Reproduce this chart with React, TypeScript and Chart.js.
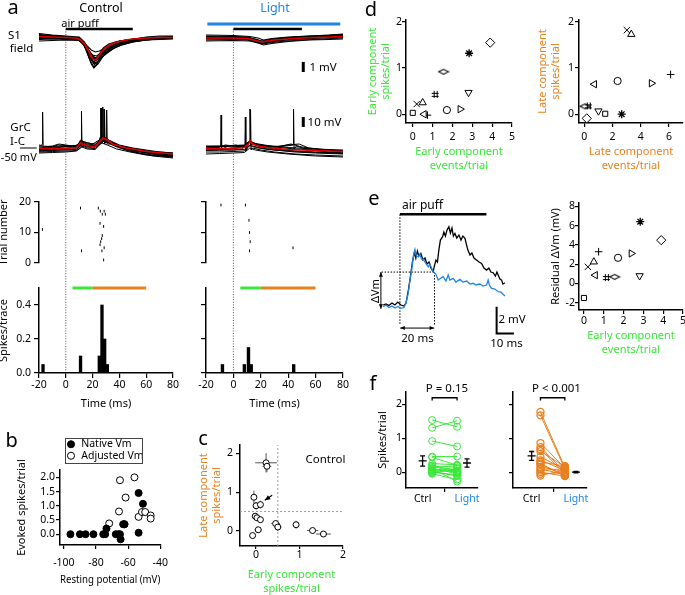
import React, { useEffect, useRef } from 'react';
import { Chart, registerables } from 'chart.js';

Chart.register(...registerables);

const FONT = "'Noto Sans', 'Open Sans', 'DejaVu Sans', sans-serif";
const GREEN = '#3ae63a';
const ORANGE = '#e8801f';
const BLUE = '#1f86e3';
const RED = '#e00000';

// ---------------- panel a ----------------
const timeTicks = [-20, 0, 20, 40, 60, 80];
const airPuffWin = [0, 50];
const earlyWin = [5, 20];
const lateWin = [20, 60];

const s1CtrlTraces = [
  [[-20,0.3],[-12,0.2],[-5,0.15],[0,0.1],[6,0.0],[10,-0.1],[13,-0.5],[16,-1.5],[19,-2.6],[21,-3.0],[23,-2.7],[25,-2.1],[28,-1.4],[32,-0.9],[36,-0.6],[42,-0.4],[50,-0.2],[60,-0.05],[70,0.05],[80,0.1]],
  [[-20,-0.1],[-10,0.0],[0,-0.05],[8,-0.1],[12,-0.3],[16,-0.8],[19,-1.2],[22,-1.4],[25,-1.3],[28,-1.1],[32,-0.9],[36,-0.7],[42,-0.45],[50,-0.25],[60,-0.1],[70,0.0],[80,0.0]],
  [[-20,0.2],[-8,0.1],[0,0.0],[9,-0.1],[13,-0.6],[17,-1.6],[20,-2.3],[22,-2.5],[25,-2.2],[28,-1.8],[32,-1.4],[36,-1.0],[42,-0.7],[50,-0.4],[60,-0.2],[70,-0.1],[80,0.0]],
  [[-20,0.05],[-10,-0.05],[0,0.1],[8,0.05],[12,-0.3],[15,-1.0],[18,-1.8],[21,-2.4],[24,-2.0],[27,-1.4],[30,-0.9],[34,-0.6],[40,-0.3],[50,-0.1],[60,0.05],[70,0.1],[80,0.1]],
  [[-20,0.35],[-10,0.25],[0,0.15],[10,0.0],[14,-0.7],[17,-1.5],[20,-2.0],[22,-2.1],[25,-1.6],[28,-1.0],[32,-0.6],[38,-0.35],[45,-0.2],[55,-0.05],[65,0.05],[80,0.15]],
  [[-20,-0.15],[-10,-0.1],[0,-0.15],[9,-0.2],[13,-0.5],[16,-1.2],[19,-2.0],[22,-2.8],[24,-2.6],[27,-2.0],[30,-1.5],[34,-1.0],[40,-0.6],[48,-0.35],[58,-0.2],[70,-0.1],[80,-0.05]],
  [[-20,0.45],[-10,0.3],[0,0.2],[10,0.1],[14,-0.4],[18,-1.4],[21,-2.0],[24,-1.9],[27,-1.5],[31,-1.1],[36,-0.7],[42,-0.4],[50,-0.15],[60,0.1],[70,0.2],[80,0.2]],
  [[-20,-0.3],[-10,-0.25],[0,-0.2],[10,-0.25],[14,-0.8],[18,-2.2],[21,-2.9],[23,-2.6],[26,-1.9],[30,-1.3],[35,-0.9],[42,-0.55],[50,-0.35],[60,-0.2],[70,-0.15],[80,-0.1]],
  [[-20,0.1],[-10,0.05],[0,0.0],[9,-0.05],[13,-0.45],[16,-1.1],[19,-1.8],[22,-2.3],[25,-2.0],[28,-1.5],[32,-1.1],[37,-0.75],[43,-0.5],[50,-0.3],[60,-0.1],[70,0.0],[80,0.0]],
  [[-20,0.25],[-10,0.2],[0,0.1],[10,0.05],[14,-0.5],[17,-1.2],[20,-1.7],[23,-1.8],[26,-1.5],[29,-1.2],[33,-0.9],[38,-0.6],[45,-0.35],[55,-0.15],[65,0.0],[80,0.1]],
  [[-20,-0.05],[-10,0.0],[0,-0.05],[9,-0.1],[12,-0.4],[15,-1.1],[18,-2.0],[21,-2.6],[23,-2.5],[26,-2.0],[30,-1.5],[35,-1.1],[41,-0.7],[50,-0.4],[60,-0.2],[70,-0.05],[80,0.05]],
  [[-20,0.0],[-10,0.1],[0,0.05],[10,-0.05],[13,-0.4],[16,-1.0],[19,-1.6],[22,-2.0],[25,-1.9],[28,-1.6],[32,-1.3],[36,-1.0],[42,-0.65],[50,-0.35],[60,-0.15],[70,0.0],[80,0.05]],
];
const s1CtrlMean = [[-20,0.15],[-10,0.1],[0,0.05],[8,0],[11,-0.2],[14,-0.6],[17,-1.3],[19,-1.9],[21,-2.2],[23,-2.1],[25,-1.7],[28,-1.2],[31,-0.85],[35,-0.55],[40,-0.35],[45,-0.2],[50,-0.1],[60,0.0],[70,0.05],[80,0.05]];

const s1LightTraces = [
  [[-20,0.2],[0,0.15],[10,0.1],[16,-0.1],[21,-0.3],[26,-0.15],[35,0.0],[50,0.15],[65,0.25],[80,0.35]],
  [[-20,-0.2],[0,-0.15],[10,-0.2],[16,-0.4],[21,-0.6],[26,-0.5],[35,-0.35],[50,-0.2],[65,-0.1],[80,0.0]],
  [[-20,0.1],[0,0.05],[10,0.0],[17,-0.3],[22,-0.45],[27,-0.3],[36,-0.15],[50,-0.05],[65,0.1],[80,0.2]],
  [[-20,-0.1],[0,-0.05],[10,-0.1],[15,-0.25],[20,-0.55],[25,-0.4],[34,-0.25],[50,-0.1],[65,0.0],[80,0.05]],
  [[-20,0.3],[0,0.25],[12,0.15],[18,0.0],[22,-0.2],[28,-0.05],[40,0.1],[55,0.2],[70,0.3],[80,0.4]],
  [[-20,-0.3],[0,-0.25],[12,-0.3],[18,-0.5],[22,-0.7],[28,-0.55],[40,-0.35],[55,-0.2],[70,-0.15],[80,-0.1]],
  [[-20,0.05],[0,0.1],[12,0.0],[17,-0.2],[21,-0.4],[26,-0.3],[36,-0.1],[50,0.05],[65,0.15],[80,0.25]],
  [[-20,-0.05],[0,-0.1],[12,-0.15],[17,-0.35],[22,-0.55],[27,-0.4],[38,-0.2],[52,-0.05],[66,0.05],[80,0.1]],
  [[-20,0.15],[0,0.1],[10,0.05],[16,-0.15],[20,-0.35],[25,-0.25],[34,-0.05],[48,0.1],[62,0.2],[80,0.3]],
];
const s1LightMean = [[-20,0.0],[0,0.0],[10,-0.05],[15,-0.2],[19,-0.35],[21,-0.4],[25,-0.3],[30,-0.2],[40,-0.1],[50,0.0],[60,0.05],[70,0.1],[80,0.15]];

const grcCtrlTraces = [
  [[-20,-45],[-18,-45.5],[-17.6,-44],[-17.3,-12],[-16.9,-48],[-15.5,-47],[-10,-46],[-5,-44],[0,-45],[5,-46],[9,-45],[11,-40],[14,-42],[20,-44],[25,-40],[28,-36],[32,-40],[40,-45],[50,-48],[60,-50],[70,-52],[80,-53]],
  [[-20,-49],[-10,-49],[0,-48.5],[6,-47.5],[10,-43],[11.4,-41],[11.7,-11],[12.1,-47],[13.5,-45],[18,-46],[22,-46],[26,-41],[29,-38],[33,-42],[40,-46],[50,-50],[60,-53],[70,-55],[80,-56]],
  [[-20,-51],[-10,-50.5],[0,-50],[8,-49],[12,-45],[16,-47],[22,-47],[25,-40],[25.8,-37],[26.1,-8],[26.5,-42],[28.6,-38],[28.9,-9],[29.3,-43],[31,-41],[36,-45],[45,-50],[55,-53],[65,-55],[80,-57]],
  [[-20,-47],[-10,-47.5],[0,-47],[8,-46.5],[12,-42],[16,-44],[22,-45],[26,-39],[27.3,-36],[27.6,-7],[28.0,-41],[30,-38],[34,-42],[42,-47],[52,-50],[65,-53],[80,-55]],
  [[-20,-53],[-10,-52.5],[0,-52],[8,-51],[12,-47],[16,-49],[22,-49.5],[26,-43],[28.2,-38],[28.5,-9],[28.9,-44],[30.2,-39],[30.5,-10],[30.9,-44],[33,-44],[40,-48],[50,-52],[65,-56],[80,-58]],
  [[-20,-49.5],[-8,-50],[-4,-47],[2,-46],[6,-48],[10,-46],[12,-43],[16,-45],[22,-46],[25,-40],[26.2,-37],[26.5,-8],[26.9,-43],[29,-40],[33,-43],[40,-47],[50,-50],[62,-53],[80,-55]],
  [[-20,-51],[-10,-50],[-6,-47],[0,-46],[6,-48],[10,-46],[13,-44],[18,-47],[24,-46],[28,-41],[32,-43],[40,-47],[50,-51],[65,-54],[80,-56]],
  [[-20,-46],[-10,-46.5],[0,-46],[8,-45.5],[12,-41],[16,-43],[22,-44],[27,-39],[31,-41],[38,-45],[48,-48],[60,-51],[80,-53]],
  [[-20,-52],[-10,-51.5],[0,-51],[8,-50.5],[12,-46],[16,-48],[22,-48.5],[27,-43],[31,-45],[38,-49],[48,-52],[60,-55],[80,-57]],
  [[-20,-48],[-12,-48],[-6,-45],[0,-45.5],[6,-47],[11,-43],[15,-45],[22,-46],[27,-41],[31,-42],[38,-46],[50,-49],[65,-52],[80,-54]],
  [[-20,-50],[-10,-49],[0,-49.5],[8,-49],[12,-44],[16,-46],[22,-47],[27,-42],[30,-40],[35,-44],[45,-49],[60,-52],[80,-55]],
];
const grcCtrlMean = [[-20,-48.5],[-5,-48.5],[0,-48.3],[8,-47.5],[11,-43],[13,-44.5],[18,-46],[22,-46.5],[25,-42],[28,-38],[31,-40],[35,-44],[45,-48],[60,-51.5],[80,-54]];

const grcLightTraces = [
  [[-20,-48],[-10.3,-47.5],[-9.3,-46],[-9,-15],[-8.6,-50],[-7,-49],[0,-48],[8,-47],[11,-42],[14,-44],[20,-47],[30,-49],[45,-51],[60,-52],[80,-53]],
  [[-20,-50],[-10,-49.5],[0,-50],[6,-49],[8.4,-46],[8.7,-17],[9.1,-51],[11,-46],[14,-46],[20,-48],[30,-50],[45,-52],[60,-53],[80,-54]],
  [[-20,-46],[-10,-46],[0,-45.5],[8,-45],[11.8,-41],[12.1,-9],[12.5,-46],[14,-43],[20,-45],[30,-47],[45,-49],[60,-50],[80,-51]],
  [[-20,-52],[-10,-52],[0,-51.5],[8,-51],[12.2,-45],[12.5,-10],[12.9,-50],[14,-48],[20,-50],[30,-52],[45,-54],[60,-55],[80,-56]],
  [[-20,-49],[-8,-49],[-4,-46],[2,-45],[6,-47],[10,-46],[12,-41],[15,-43],[20,-46],[30,-47],[38,-46],[43.6,-45],[43.9,-9],[44.3,-49],[46,-46],[55,-50],[70,-52],[80,-53]],
  [[-20,-54],[-10,-53.5],[0,-53],[8,-52.5],[12,-48],[16,-50],[25,-52],[40,-54],[60,-56],[80,-57]],
  [[-20,-47],[-5,-46.5],[0,-47],[8,-46],[12,-42],[16,-44],[22,-46],[30,-47],[40,-45],[48,-44],[55,-48],[70,-50],[80,-51]],
  [[-20,-46.5],[0,-46],[8,-45.5],[12,-41],[16,-43.5],[25,-45.5],[40,-47.5],[60,-49],[80,-50]],
  [[-20,-50.5],[0,-50],[8,-49.5],[12,-45],[16,-47.5],[25,-49.5],[40,-51],[60,-52.5],[80,-53.5]],
  [[-20,-48],[-10,-47],[-6,-45],[0,-46],[8,-46],[12,-42],[16,-44],[25,-47],[35,-46],[42,-44],[50,-47],[65,-50],[80,-52]],
];
const grcLightMean = [[-20,-48.5],[0,-48.5],[8,-47.5],[11,-44],[12.4,-41],[14,-44],[18,-46],[25,-47.5],[40,-49.5],[60,-50.5],[80,-51.5]];

const rasterCtrlTime = [-17.4, 11.2, 12, 24.6, 26.1, 29, 29.9, 27.6, 25.9, 28.6, 27.6, 27.1, 26.4, 25.9, 29, 27.3, 28.6];
const rasterCtrlTrial = [11, 18, 4, 18, 17, 17, 16, 16, 13, 12, 9, 8, 7, 6, 5, 4, 1];
const rasterLightTime = [-9, 9, 11.6, 12, 12.5, 12, 44];
const rasterLightTrial = [19, 19, 14, 10, 7, 4, 5];

const histCtrlBin = [-17, 11, 25, 27, 29, 31];
const histCtrlVal = [0.05, 0.1, 0.1, 0.4, 0.2, 0.05];
const histLightBin = [-8, 8, 11, 13, 44];
const histLightVal = [0.05, 0.05, 0.15, 0.05, 0.05];

// ---------------- panel b ----------------
const bNativeVm = [-95.9, -90, -86.5, -81.6, -75.5, -74.3, -73.5, -67.7, -66.1, -64.7, -65.1, -63.1, -62.3, -53.5, -53.5, -50.8];
const bNativeSpk = [0, 0, 0, 0, 0, 0, 0.2, 0, 0, -0.18, 0, 0.35, 0.35, 1.45, 0.05, 1.07];
const bAdjVm = [-71.8, -65.1, -65.7, -61.6, -56.1, -53.5, -62.3, -51.4, -49.4, -46, -46];
const bAdjSpk = [0.38, 1.9, 0.8, 1.29, 2.0, 0.61, 0.35, 0.78, 0.78, 0.66, 0.55];

// ---------------- panel c ----------------
const cEarly = [0.23, 0.25, -0.05, 0.0, 0.1, -0.02, 0.02, 0.1, 0.05, -0.08, 0.45, 0.5, 0.92, 1.3, 1.55];
const cLate = [1.76, 1.67, 0.87, 0.65, 0.68, 0.38, 0.34, 0.29, 0.03, -0.12, 0.19, 0.1, 0.16, 0.01, -0.08];
const cEarlyErr = [0.25, 0.1, 0.03, 0.03, 0.05, 0.03, 0.03, 0.05, 0.08, 0.02, 0.1, 0.08, 0.05, 0.13, 0.17];
const cLateErr = [0.25, 0.15, 0.17, 0.1, 0.1, 0.08, 0.08, 0.08, 0.08, 0.03, 0.08, 0.1, 0.1, 0.02, 0.02];

// ---------------- panels d / e (cells) ----------------
const cellMarker = ['rect', 'crossRot', 'triangle', 'triangleLeft', 'cross', 'hash', 'thinDiamond', 'circle', 'triangleRight', 'triangleDown', 'star', 'rectRot'];
const earlyEvents = [0.0, 0.2, 0.5, 0.57, 0.74, 1.13, 1.55, 1.72, 2.39, 2.81, 2.84, 3.9];
const earlySpikes = [0.03, 0.22, 0.25, 0.0, -0.02, 0.43, 0.92, 0.09, 0.11, 0.47, 1.32, 1.55];
const lateEvents = [1.48, 3.02, 3.33, 0.71, 6.12, 0.28, 0.05, 2.36, 4.76, 1.0, 2.65, 0.17];
const lateSpikes = [0.01, 1.82, 1.73, 0.65, 0.86, 0.18, 0.17, 0.72, 0.67, 0.07, 0.0, -0.09];
const residualDVm = [-1.5, 1.73, 2.25, 0.87, 3.3, 0.62, 0.69, 2.67, 3.12, 0.8, 6.42, 4.5];

// ---------------- panel e traces (ms, mV) ----------------
const eBlue = [[-9.7,0],[-8.1,0.13],[-6.4,-0.06],[-4.6,0.05],[-2.9,-0.1],[-1.2,0.02],[0.6,-0.12],[2.3,-0.06],[3.5,0.28],[4.8,1.0],[5.8,2.0],[6.8,2.75],[7.8,3.8],[8.7,4.3],[9.5,3.8],[10.6,3.75],[11.6,3.95],[12.4,3.58],[13.5,3.55],[14.5,3.35],[16.4,3.0],[17.3,3.2],[19.2,2.63],[20.8,2.45],[22.1,2.0],[23.7,2.15],[25.0,2.25],[26.6,1.93],[27.9,2.38],[28.9,2.0],[30.8,2.13],[32.4,1.85],[34.7,2.05],[36.4,1.85],[38.6,1.93],[40.5,1.7],[42.4,1.76],[43.9,1.63],[46.2,1.7],[48.0,1.55],[50.1,1.63],[51.0,2.0],[51.7,1.63],[53.0,1.38],[54.9,1.33],[56.8,1.13],[58.4,1.1],[59.5,0.95],[60.7,0.8]];
const eBlack = [[-9.7,0.13],[-8.1,0.2],[-6.4,0.09],[-4.6,0.28],[-2.9,0.13],[-1.2,0.35],[0.6,0.13],[2.3,0.05],[3.5,0.28],[4.9,1.25],[6.1,2.3],[7.2,3.35],[8.4,4.1],[9.2,3.65],[10.1,4.18],[11,3.8],[12.1,4.0],[13.3,3.5],[14.5,3.65],[15.6,3.2],[16.8,3.35],[17.9,2.9],[19.2,2.63],[19.9,3.05],[20.8,3.5],[21.7,3.35],[22.5,4.25],[23.4,5.0],[24.7,5.25],[25.4,5.6],[26.3,5.3],[27.2,5.75],[28.3,6.0],[29.2,5.53],[30.1,5.9],[30.9,5.3],[31.8,5.5],[32.9,5.15],[34.1,5.38],[35.3,5.0],[36.4,5.3],[37.6,5.13],[38.4,4.7],[39.3,4.25],[40.5,3.88],[41.6,4.03],[42.8,3.65],[44.3,3.5],[45.7,3.35],[47.2,3.25],[48.6,2.9],[50.1,2.75],[51.4,2.9],[52.6,2.6],[53.9,2.55],[55.2,2.3],[56.1,2.6],[56.8,2.38],[57.8,2.08],[58.8,2.0],[59.5,1.7],[60.7,1.8]];
const eDeltaVm = 2.6;
const eWindow = 20;

// ---------------- panel f ----------------
const fEarlyCtrl = [1.54, 1.31, 0.92, 0.46, 0.44, 0.25, 0.2, 0.15, 0.12, 0.08, 0.05, 0.02, 0.0, -0.03, -0.05, 0.1, 0.03, 0.18];
const fEarlyLight = [1.34, 1.52, 0.76, 0.46, 0.2, 0.22, 0.02, 0.18, -0.05, 0.0, 0.14, -0.12, -0.08, 0.1, -0.22, -0.28, 0.05, -0.02];
const fLateCtrl = [1.78, 1.68, 0.86, 0.74, 0.68, 0.62, 0.45, 0.35, 0.3, 0.22, 0.15, 0.1, 0.05, 0.0, -0.05, -0.1, 0.25];
const fLateLight = [0.14, 0.1, 0.12, 0.0, -0.05, 0.16, 0.08, 0.05, 0.18, -0.1, 0.02, -0.08, 0.1, -0.12, -0.02, 0.06, -0.1];
const fEarlyMean = [0.33, 0.27];
const fEarlySem = [0.15, 0.12];
const fLateMean = [0.48, 0.0];
const fLateSem = [0.13, 0.02];
const fCategories = ['Ctrl', '', 'Light'];

// ================= helpers =================
function glyph(w: number, h: number, lw: number, draw: (c: CanvasRenderingContext2D) => void) {
  const cv = document.createElement('canvas');
  cv.width = w; cv.height = h;
  const c = cv.getContext('2d') as CanvasRenderingContext2D;
  c.strokeStyle = '#000'; c.lineWidth = lw;
  draw(c);
  return cv;
}
const HASH = glyph(9, 9, 1, (c) => {
  c.beginPath();
  c.moveTo(3.5, 1); c.lineTo(3.5, 8); c.moveTo(6.5, 1); c.lineTo(6.5, 8);
  c.moveTo(1, 3.5); c.lineTo(8, 3.5); c.moveTo(1, 6.5); c.lineTo(8, 6.5);
  c.stroke();
});
const THIN_DIAMOND = glyph(12, 8, 1.1, (c) => {
  c.beginPath();
  c.moveTo(1, 4); c.lineTo(6, 1.5); c.lineTo(11, 4); c.lineTo(6, 6.5);
  c.closePath(); c.stroke();
});

function markerStyle(name: string) {
  const base = { pointBackgroundColor: '#fff', pointBorderColor: '#000', pointBorderWidth: 1, pointRotation: 0 };
  switch (name) {
    case 'rect': return { ...base, pointStyle: 'rect', pointRadius: 3.6 };
    case 'crossRot': return { ...base, pointStyle: 'crossRot', pointRadius: 4.5 };
    case 'triangle': return { ...base, pointStyle: 'triangle', pointRadius: 4.2 };
    case 'triangleLeft': return { ...base, pointStyle: 'triangle', pointRadius: 4.2, pointRotation: 270 };
    case 'triangleRight': return { ...base, pointStyle: 'triangle', pointRadius: 4.2, pointRotation: 90 };
    case 'triangleDown': return { ...base, pointStyle: 'triangle', pointRadius: 4.2, pointRotation: 180 };
    case 'cross': return { ...base, pointStyle: 'cross', pointRadius: 3.8 };
    case 'hash': return { ...base, pointStyle: HASH, pointRadius: 4 };
    case 'thinDiamond': return { ...base, pointStyle: THIN_DIAMOND, pointRadius: 5 };
    case 'circle': return { ...base, pointStyle: 'circle', pointRadius: 3.6 };
    case 'star': return { ...base, pointStyle: 'star', pointRadius: 4, pointBorderWidth: 1.3 };
    default: return { ...base, pointStyle: 'rectRot', pointRadius: 4.6 };
  }
}

function mkBox(area: number[], L: number, B: number, T: number, R: number, hasY: boolean, hasX: boolean) {
  const [l, t, r, b] = area;
  return {
    left: l - L, top: t - T, width: L + (r - l) + R, height: T + (b - t) + B,
    pad: { top: T, right: R, bottom: hasX ? 0 : B, left: hasY ? 0 : L },
  };
}

function ax(o: any) {
  const horiz = o.pos === 'bottom';
  return {
    type: 'linear', position: o.pos, min: o.min, max: o.max, bounds: 'data', offset: false,
    afterBuildTicks: (s: any) => { s.ticks = o.ticks.map((v: number) => ({ value: v })); },
    afterFit: (s: any) => { if (horiz) s.height = o.size; else s.width = o.size; },
    grid: {
      display: true, drawOnChartArea: false, drawTicks: true, offset: false,
      tickLength: o.tl ?? 4, color: o.gridColor ?? '#000', tickColor: o.gridColor ?? '#000',
      lineWidth: 1.2, tickWidth: 1.2,
    },
    border: { display: true, color: '#000', width: 1.5 },
    ticks: {
      padding: o.pad ?? 2, color: o.labelColor ?? '#000', font: { family: FONT, size: 10.5 },
      maxRotation: 0, minRotation: 0, autoSkip: false,
      callback: o.fmt ?? ((v: number) => String(v)),
    },
    title: o.title
      ? { display: true, text: o.title, color: o.titleColor ?? '#000', font: { family: FONT, size: 11 }, padding: { top: 0, bottom: 0 } }
      : { display: false },
  };
}
const hid = (min: number, max: number) => ({ type: 'linear', display: false, min, max, bounds: 'data' });

function opts(box: any, scales: any, extra: any = {}) {
  return {
    animation: false, responsive: false, maintainAspectRatio: false, devicePixelRatio: 1, events: [],
    layout: { padding: box.pad },
    plugins: { legend: { display: false }, tooltip: { enabled: false }, title: { display: false } },
    scales,
    ...extra,
  };
}

// `order`: lower values are drawn on top
const ln = (p: number[][], color: string, w: number, extra: any = {}) => ({
  type: 'line', data: p.map(([x, y]) => ({ x, y })), borderColor: color, borderWidth: w,
  pointRadius: 0, fill: false, tension: 0, order: 1, ...extra,
});
const hbar = (win: number[], y: number) => [[win[0], y], [win[1], y]];
const zipXY = (xs: number[], ys: number[]) => xs.map((x, i) => ({ x, y: ys[i] }));

function arrowHead(ctx: CanvasRenderingContext2D, from: number[], to: number[], s: number) {
  const a = Math.atan2(to[1] - from[1], to[0] - from[0]);
  ctx.beginPath();
  ctx.moveTo(to[0], to[1]);
  ctx.lineTo(to[0] - s * Math.cos(a - 0.42), to[1] - s * Math.sin(a - 0.42));
  ctx.lineTo(to[0] - s * Math.cos(a + 0.42), to[1] - s * Math.sin(a + 0.42));
  ctx.closePath();
  ctx.fill();
}

function marksPlugin(items: any[]) {
  return {
    id: 'marks',
    afterDatasetsDraw(chart: any) {
      const { ctx } = chart; const xs = chart.scales.x; const ys = chart.scales.y;
      ctx.save();
      for (const m of items) {
        const p = m.pts.map(([a, b]: number[]) => [xs.getPixelForValue(a), ys.getPixelForValue(b)]);
        ctx.strokeStyle = m.color || '#000'; ctx.fillStyle = m.color || '#000'; ctx.lineWidth = m.width || 1;
        ctx.setLineDash(m.dash || []);
        ctx.beginPath();
        p.forEach(([x, y]: number[], i: number) => (i ? ctx.lineTo(x, y) : ctx.moveTo(x, y)));
        ctx.stroke();
        ctx.setLineDash([]);
        if (m.head && (m.heads === 'end' || m.heads === 'both')) arrowHead(ctx, p[p.length - 2], p[p.length - 1], m.head);
        if (m.head && (m.heads === 'start' || m.heads === 'both')) arrowHead(ctx, p[1], p[0], m.head);
      }
      ctx.restore();
    },
  };
}

function errPlugin(items: any[]) {
  return {
    id: 'errbars',
    beforeDatasetsDraw(chart: any) {
      const { ctx } = chart; const xs = chart.scales.x; const ys = chart.scales.y;
      ctx.save();
      for (const e of items) {
        ctx.strokeStyle = e.color || '#000'; ctx.lineWidth = e.width || 1;
        const px = xs.getPixelForValue(e.x); const py = ys.getPixelForValue(e.y);
        ctx.beginPath();
        if (e.ex) { ctx.moveTo(xs.getPixelForValue(e.x - e.ex), py); ctx.lineTo(xs.getPixelForValue(e.x + e.ex), py); }
        if (e.ey) {
          const y1 = ys.getPixelForValue(e.y - e.ey); const y2 = ys.getPixelForValue(e.y + e.ey);
          ctx.moveTo(px, y1); ctx.lineTo(px, y2);
          if (e.cap) { ctx.moveTo(px - e.cap, y1); ctx.lineTo(px + e.cap, y1); ctx.moveTo(px - e.cap, y2); ctx.lineTo(px + e.cap, y2); }
        }
        if (e.bar) { ctx.moveTo(px - e.bar, py); ctx.lineTo(px + e.bar, py); }
        ctx.stroke();
      }
      ctx.restore();
    },
  };
}

const borderPlugin = {
  id: 'legendBorder',
  afterDraw(chart: any) {
    const { ctx, width, height } = chart;
    ctx.save(); ctx.strokeStyle = '#444'; ctx.lineWidth = 1;
    ctx.strokeRect(0.5, 0.5, width - 1, height - 1);
    ctx.restore();
  },
};

// ================= chart specs =================
const specs: any[] = [];
function add(box: any, make: (box: any) => any) { specs.push({ box, make: () => make(box) }); }

// a: dotted time-zero lines
[[39, 173], [206, 343]].forEach(([l, r]) => {
  add(mkBox([l, 29, r, 373], 0, 0, 0, 0, false, false), (box) => ({
    type: 'scatter',
    data: { datasets: [ln([[0, 0], [0, 1]], '#555', 1, { borderDash: [1, 1.6] })] },
    options: opts(box, { x: hid(-20, 80), y: hid(0, 1) }),
  }));
});

// a: S1 field
add(mkBox([39, 20, 173, 80], 0, 0, 0, 0, false, false), (box) => ({
  type: 'scatter',
  data: { datasets: [
    ...s1CtrlTraces.map((t) => ln(t, '#000', 1.1, { order: 2 })),
    ln(s1CtrlMean, RED, 1.7, { order: 0 }),
    ln(hbar(airPuffWin, 0.9), '#000', 2.5, { clip: false }),
  ] },
  options: opts(box, { x: hid(-20, 80), y: hid(-4.2, 1.8) }),
}));
add(mkBox([206, 20, 343, 80], 0, 0, 0, 0, false, false), (box) => ({
  type: 'scatter',
  data: { datasets: [
    ...s1LightTraces.map((t) => ln(t, '#000', 1.1, { order: 2 })),
    ln(s1LightMean, RED, 1.7, { order: 0 }),
    ln(hbar([-19, 78], 1.4), BLUE, 3, { clip: false }),
    ln(hbar(airPuffWin, 0.9), '#000', 2.5, { clip: false }),
    ln([[51, -2.4], [51, -3.4]], '#000', 3),
  ] },
  options: opts(box, { x: hid(-20, 80), y: hid(-4.2, 1.8) }),
}));

// a: GrC current clamp
add(mkBox([39, 100, 173, 165], 0, 0, 0, 0, false, false), (box) => ({
  type: 'scatter',
  data: { datasets: [...grcCtrlTraces.map((t) => ln(t, '#000', 1, { order: 2 })), ln(grcCtrlMean, RED, 1.7, { order: 0 })] },
  options: opts(box, { x: hid(-20, 80), y: hid(-65, 0) }),
}));
add(mkBox([206, 100, 343, 165], 0, 0, 0, 0, false, false), (box) => ({
  type: 'scatter',
  data: { datasets: [...grcLightTraces.map((t) => ln(t, '#000', 1, { order: 2 })), ln(grcLightMean, RED, 1.7, { order: 0 }), ln([[51, -17], [51, -27]], '#000', 3)] },
  options: opts(box, { x: hid(-20, 80), y: hid(-65, 0) }),
}));

// a: rasters
const rasterStyle = { pointStyle: 'line', pointRotation: 90, pointRadius: 1.4, pointBorderWidth: 1, pointBorderColor: '#000' };
add(mkBox([39, 202, 173, 263], 42, 10, 10, 4, true, false), (box) => ({
  type: 'scatter',
  data: { datasets: [{ type: 'scatter', data: zipXY(rasterCtrlTime, rasterCtrlTrial), ...rasterStyle }] },
  options: opts(box, { x: hid(-20, 80), y: ax({ pos: 'left', min: 0, max: 20, ticks: [0, 10, 20], size: 42, tl: 5, pad: 3, title: 'Trial number' }) }),
}));
add(mkBox([206, 202, 343, 263], 10, 10, 10, 4, true, false), (box) => ({
  type: 'scatter',
  data: { datasets: [{ type: 'scatter', data: zipXY(rasterLightTime, rasterLightTrial), ...rasterStyle }] },
  options: opts(box, { x: hid(-20, 80), y: ax({ pos: 'left', min: 0, max: 20, ticks: [0, 10, 20], size: 10, tl: 5, fmt: () => '' }) }),
}));

// a: histograms
function histSpec(area: number[], bins: number[], vals: number[], yW: number, labels: boolean) {
  add(mkBox(area, yW, 37, 10, 12, true, true), (box) => ({
    type: 'bar',
    data: { datasets: [
      { type: 'bar', data: zipXY(bins, vals), backgroundColor: '#000', borderWidth: 0, barPercentage: 1, categoryPercentage: 1, order: 2 },
      ln(hbar(earlyWin, 0.5), GREEN, 3, { clip: false, order: 0 }),
      ln(hbar(lateWin, 0.5), ORANGE, 3, { clip: false, order: 0 }),
    ] },
    options: opts(box, {
      x: ax({ pos: 'bottom', min: -20, max: 80, ticks: timeTicks, size: 37, tl: 5, pad: 1, title: 'Time (ms)' }),
      y: ax({ pos: 'left', min: 0, max: 0.5, ticks: [0, 0.2, 0.4], size: yW, tl: 5, pad: 3,
        fmt: labels ? (v: number) => v.toFixed(1) : () => '', title: labels ? 'Spikes/trace' : undefined }),
    }),
  }));
}
histSpec([39, 288, 173, 373], histCtrlBin, histCtrlVal, 42, true);
histSpec([206, 288, 343, 373], histLightBin, histLightVal, 10, false);

// b
const bNativeStyle = { pointStyle: 'circle', pointRadius: 3.5, pointBackgroundColor: '#000', pointBorderColor: '#000', pointBorderWidth: 1 };
const bAdjStyle = { pointStyle: 'circle', pointRadius: 3.5, pointBackgroundColor: '#fff', pointBorderColor: '#000', pointBorderWidth: 1 };
add(mkBox([60, 470, 162, 545], 45, 41, 10, 14, true, true), (box) => ({
  type: 'scatter',
  data: { datasets: [
    { type: 'scatter', label: 'Native Vm', data: zipXY(bNativeVm, bNativeSpk), ...bNativeStyle, clip: false },
    { type: 'scatter', label: 'Adjusted Vm', data: zipXY(bAdjVm, bAdjSpk), ...bAdjStyle, clip: false },
  ] },
  options: opts(box, {
    x: ax({ pos: 'bottom', min: -102.4, max: -40, ticks: [-100, -80, -60, -40], size: 41, tl: 4, pad: 8, title: 'Resting potential (mV)' }),
    y: ax({ pos: 'left', min: -0.38, max: 2.26, ticks: [0, 0.5, 1, 1.5, 2], size: 45, tl: 4, pad: 1, fmt: (v: number) => v.toFixed(1), title: 'Evoked spikes/trial' }),
  }),
}));
// b legend
specs.push({
  box: { left: 65, top: 438, width: 78, height: 26 },
  make: () => ({
    type: 'scatter',
    data: { datasets: [
      { label: 'Native Vm', data: [], ...bNativeStyle },
      { label: 'Adjusted Vm', data: [], ...bAdjStyle },
    ] },
    options: {
      animation: false, responsive: false, maintainAspectRatio: false, devicePixelRatio: 1, events: [],
      layout: { padding: 0 },
      scales: { x: { display: false }, y: { display: false } },
      plugins: {
        tooltip: { enabled: false },
        legend: { display: true, position: 'chartArea', align: 'start',
          labels: { usePointStyle: true, boxWidth: 10, boxHeight: 5, padding: 1, color: '#000', font: { family: FONT, size: 10.5 } } },
      },
    },
    plugins: [borderPlugin],
  }),
});

// c
add(mkBox([240, 445, 343, 546], 43, 49, 10, 14, true, true), (box) => ({
  type: 'scatter',
  data: { datasets: [
    { type: 'scatter', data: zipXY(cEarly, cLate), pointStyle: 'circle', pointRadius: 3, pointBackgroundColor: '#fff', pointBorderColor: '#000', pointBorderWidth: 1, clip: false, order: 0 },
    ln([[0.5, -0.39], [0.5, 2.22]], '#9a9a9a', 1, { borderDash: [2, 2] }),
    ln([[-0.37, 0.5], [2.0, 0.5]], '#9a9a9a', 1, { borderDash: [2, 2] }),
  ] },
  options: opts(box, {
    x: ax({ pos: 'bottom', min: -0.37, max: 2.0, ticks: [0, 1, 2], size: 49, tl: 3, pad: 0, title: ['Early component', 'spikes/trial'], titleColor: GREEN }),
    y: ax({ pos: 'left', min: -0.39, max: 2.22, ticks: [0, 1, 2], size: 43, tl: 4, pad: 3, title: ['Late component', 'spikes/trial'], titleColor: ORANGE }),
  }),
  plugins: [
    errPlugin(cEarly.map((x, i) => ({ x, y: cLate[i], ex: cEarlyErr[i], ey: cLateErr[i], color: '#555', width: 1 }))),
    marksPlugin([{ pts: [[0.37, 0.92], [0.2, 0.79]], width: 1.2, head: 6, heads: 'end' }]),
  ],
}));

// d / e scatter of cells
function cellDatasets(xs: number[], ys: number[]) {
  return cellMarker.map((m, i) => ({ type: 'scatter', data: [{ x: xs[i], y: ys[i] }], ...markerStyle(m), clip: false }));
}
add(mkBox([406, 20, 512, 123], 40, 49, 10, 12, true, true), (box) => ({
  type: 'scatter',
  data: { datasets: cellDatasets(earlyEvents, earlySpikes) },
  options: opts(box, {
    x: ax({ pos: 'bottom', min: -0.34, max: 5.0, ticks: [0, 1, 2, 3, 4, 5], size: 49, tl: 4, pad: 4, title: ['Early component', 'events/trial'], titleColor: GREEN }),
    y: ax({ pos: 'left', min: -0.19, max: 2.04, ticks: [0, 1, 2], size: 40, tl: 4, pad: 0, title: ['Early component', 'spikes/trial'], titleColor: GREEN }),
  }),
}));
add(mkBox([579, 20, 683, 123], 43, 49, 10, 12, true, true), (box) => ({
  type: 'scatter',
  data: { datasets: cellDatasets(lateEvents, lateSpikes) },
  options: opts(box, {
    x: ax({ pos: 'bottom', min: -0.38, max: 7.0, ticks: [0, 2, 4, 6], size: 49, tl: 4, pad: 4, title: ['Late component', 'events/trial'], titleColor: ORANGE }),
    y: ax({ pos: 'left', min: -0.19, max: 2.04, ticks: [0, 1, 2], size: 43, tl: 4, pad: 1, title: ['Late component', 'spikes/trial'], titleColor: ORANGE }),
  }),
}));
add(mkBox([579, 203, 683, 310], 30, 46, 10, 12, true, true), (box) => ({
  type: 'scatter',
  data: { datasets: cellDatasets(earlyEvents, residualDVm) },
  options: opts(box, {
    x: ax({ pos: 'bottom', min: -0.25, max: 5.0, ticks: [0, 1, 2, 3, 4, 5], size: 46, tl: 4, pad: 1, title: ['Early component', 'events/trial'], titleColor: GREEN }),
    y: ax({ pos: 'left', min: -2.75, max: 8.36, ticks: [-2, 0, 2, 4, 6, 8], size: 30, tl: 4, pad: 0, title: 'Residual \u0394Vm (mV)' }),
  }),
}));

// e traces
add(mkBox([370, 195, 530, 345], 0, 0, 0, 0, false, false), (box) => ({
  type: 'scatter',
  data: { datasets: [
    ln(eBlue, BLUE, 1.3, { order: 0 }),
    ln(eBlack, '#000', 1.3, { order: 1 }),
    ln(hbar([0, 50], 6.93), '#000', 2.5),
    ln([[-10.6, eDeltaVm], [eWindow, eDeltaVm]], '#000', 1, { borderDash: [1.5, 1.5], order: 2 }),
    ln([[0, 6.93], [0, -1.37]], '#000', 1, { borderDash: [1.5, 1.5], order: 2 }),
    ln([[eWindow, eDeltaVm], [eWindow, -1.37]], '#000', 1, { borderDash: [1.5, 1.5], order: 2 }),
    ln([[55.9, 0], [55.9, -2], [65.9, -2]], '#000', 2),
  ] },
  options: opts(box, { x: hid(-17.3, 75.2), y: hid(-2.87, 8.38) }),
  plugins: [marksPlugin([
    { pts: [[-11, -0.15], [-11, eDeltaVm]], width: 1, head: 5, heads: 'both' },
    { pts: [[0.2, -1.6], [eWindow - 0.2, -1.6]], width: 1, head: 5, heads: 'both' },
  ])],
}));

// f
function pairSpec(area: number[], yW: number, ctrl: number[], light: number[], color: string, bw: number, mean: number[], sem: number[], ptsX: number[], range: number[], labels: boolean) {
  add(mkBox(area, yW, 22, 10, 12, true, true), (box) => ({
    type: 'scatter',
    data: { datasets: ctrl.map((c, i) => ({
      type: 'line', data: [{ x: ptsX[0], y: c }, { x: ptsX[1], y: light[i] }],
      borderColor: color, borderWidth: 1, pointRadius: 3.5, pointStyle: 'circle',
      pointBackgroundColor: 'rgba(255,255,255,0)', pointBorderColor: color, pointBorderWidth: bw, tension: 0, fill: false, clip: false,
    })) },
    options: opts(box, {
      x: ax({ pos: 'bottom', min: range[0], max: range[1], ticks: [1, 1.5, 2], size: 22, tl: 4, pad: 1,
        fmt: (_v: number, i: number) => fCategories[i],
        labelColor: (ctx: any) => (ctx.index === 2 ? BLUE : '#000'),
        gridColor: (ctx: any) => (ctx.tick && ctx.tick.value === 1.5 ? '#000' : 'rgba(0,0,0,0)') }),
      y: ax({ pos: 'left', min: -0.47, max: 2.37, ticks: [0, 1, 2], size: yW, tl: 4, pad: 0,
        fmt: labels ? (v: number) => String(v) : () => '', title: labels ? 'Spikes/trial' : undefined }),
    }),
    plugins: [
      errPlugin([
        { x: 1, y: mean[0], ey: sem[0], cap: 2.5, bar: 4, width: 1.3 },
        { x: 2, y: mean[1], ey: sem[1], cap: 2.5, bar: 4, width: 1.3 },
      ]),
      marksPlugin([{ pts: [[ptsX[0], 2.12], [ptsX[0], 2.2], [ptsX[1], 2.2], [ptsX[1], 2.12]], width: 1.3 }]),
    ],
  }));
}
pairSpec([406, 392, 478, 488], 30, fEarlyCtrl, fEarlyLight, GREEN, 1, fEarlyMean, fEarlySem, [1.215, 1.776], [0.626, 2.247], true);
pairSpec([513, 392, 587, 488], 10, fLateCtrl, fLateLight, ORANGE, 1.3, fLateMean, fLateSem, [1.2, 1.75], [0.58, 2.25], false);

// ================= text labels =================
const texts: any[] = [
  { t: 'a', x: 13, y: 7, s: 20 },
  { t: 'Control', x: 101, y: 7.5, s: 12.5 },
  { t: 'Light', x: 275, y: 7.5, s: 12.5, c: BLUE },
  { t: 'air puff', x: 80, y: 21.5, s: 11 },
  { t: 'S1', x: 14.5, y: 35, s: 11.5 },
  { t: 'field', x: 21.5, y: 47.5, s: 11.5 },
  { t: 'GrC', x: 20.5, y: 126.5, s: 11.5 },
  { t: 'I-C', x: 17.5, y: 141, s: 11.5 },
  { t: '-50 mV', x: 18.8, y: 155.5, s: 11, over: true },
  { t: '1 mV', x: 323, y: 67, s: 11.5 },
  { t: '10 mV', x: 324.5, y: 122, s: 11.5 },
  { t: 'b', x: 11.7, y: 440, s: 20 },
  { t: 'c', x: 203, y: 438, s: 20 },
  { t: 'Control', x: 325.5, y: 459, s: 11.5 },
  { t: 'd', x: 371, y: 9, s: 20 },
  { t: 'e', x: 374, y: 197.5, s: 20 },
  { t: 'air puff', x: 422.5, y: 204.5, s: 12 },
  { t: '\u0394Vm', x: 373.5, y: 291, s: 11, rot: -90 },
  { t: '20 ms', x: 417.5, y: 337.5, s: 11.5 },
  { t: '2 mV', x: 512, y: 319, s: 11.5 },
  { t: '10 ms', x: 506.5, y: 342.5, s: 11.5 },
  { t: 'f', x: 373, y: 382.5, s: 20 },
  { t: 'P = 0.15', x: 447, y: 388, s: 11.5 },
  { t: 'P < 0.001', x: 556.5, y: 388, s: 11.5 },
];

function ChartBox({ spec }: any) {
  const ref = useRef<HTMLCanvasElement | null>(null);
  useEffect(() => {
    const chart = new Chart(ref.current as HTMLCanvasElement, spec.make());
    return () => chart.destroy();
  }, [spec]);
  const b = spec.box;
  return (
    <canvas ref={ref} width={b.width} height={b.height}
      style={{ position: 'absolute', left: b.left, top: b.top, width: b.width, height: b.height }} />
  );
}

function Label({ d }: any) {
  const style: any = {
    position: 'absolute', left: d.x, top: d.y, whiteSpace: 'nowrap', lineHeight: 1,
    fontFamily: FONT, fontSize: d.s, color: d.c || '#000',
    transform: `translate(-50%, -50%)${d.rot ? ` rotate(${d.rot}deg)` : ''}`,
  };
  if (d.over) {
    const [a, b] = d.t.split(' ');
    return (
      <div style={style}>
        {a} <span style={{ textDecoration: 'overline' }}>{b}</span>
      </div>
    );
  }
  return <div style={style}>{d.t}</div>;
}

export default function App() {
  return (
    <div style={{ position: 'absolute', left: 0, top: 0, width: 685, height: 595, overflow: 'hidden', background: '#fff' }}>
      {specs.map((s, i) => <ChartBox key={i} spec={s} />)}
      {texts.map((d, i) => <Label key={'t' + i} d={d} />)}
    </div>
  );
}
